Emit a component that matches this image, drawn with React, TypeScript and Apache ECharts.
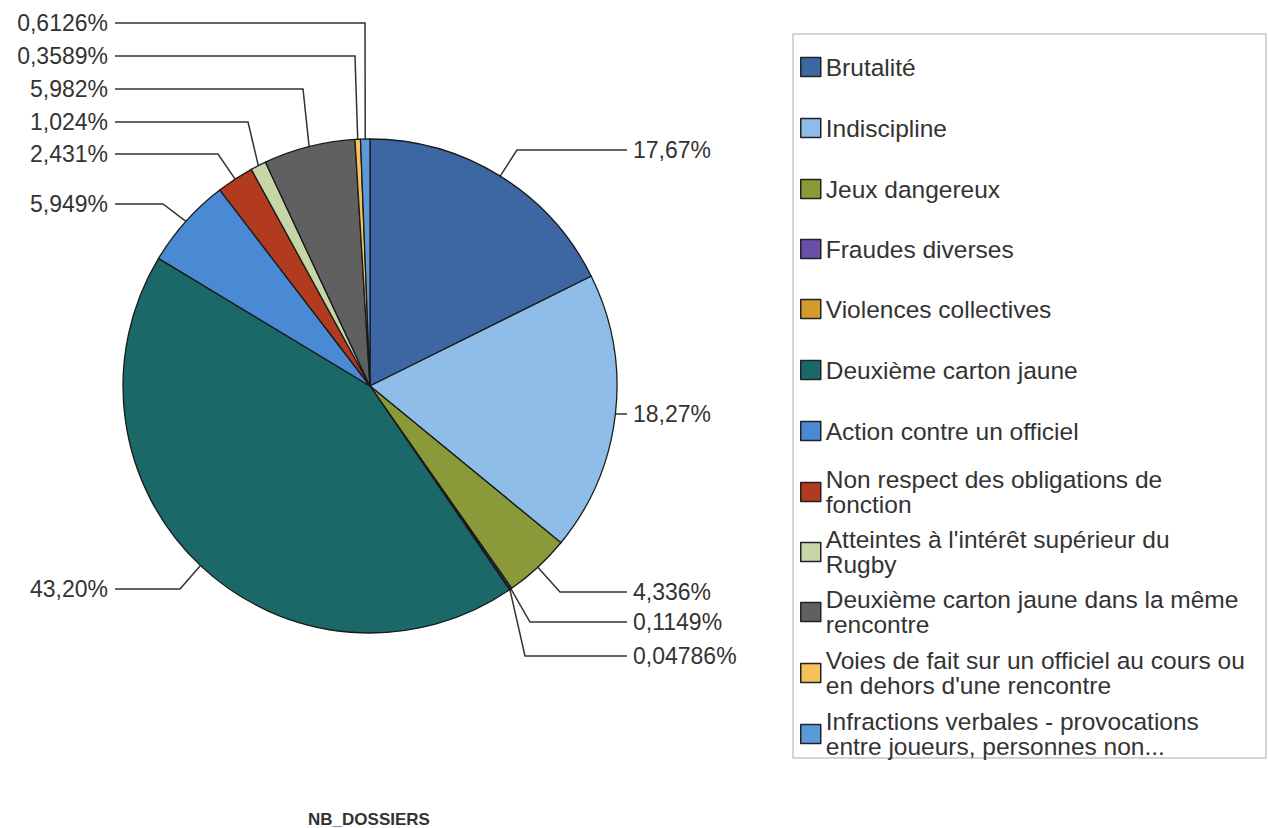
import React, { useEffect, useRef } from "react";
import * as echarts from "echarts";

const categories = [
  "Brutalité",
  "Indiscipline",
  "Jeux dangereux",
  "Fraudes diverses",
  "Violences collectives",
  "Deuxième carton jaune",
  "Action contre un officiel",
  "Non respect des obligations de fonction",
  "Atteintes à l'intérêt supérieur du Rugby",
  "Deuxième carton jaune dans la même rencontre",
  "Voies de fait sur un officiel au cours ou en dehors d'une rencontre",
  "Infractions verbales - provocations entre joueurs, personnes non...",
];

const legendLabels = [
  "Brutalité",
  "Indiscipline",
  "Jeux dangereux",
  "Fraudes diverses",
  "Violences collectives",
  "Deuxième carton jaune",
  "Action contre un officiel",
  "Non respect des obligations de\nfonction",
  "Atteintes à l'intérêt supérieur du\nRugby",
  "Deuxième carton jaune dans la même\nrencontre",
  "Voies de fait sur un officiel au cours ou\nen dehors d'une rencontre",
  "Infractions verbales - provocations\nentre joueurs, personnes non...",
];

// percentage share of NB_DOSSIERS
const shares = [17.67, 18.27, 4.336, 0.1149, 0.04786, 43.2, 5.949, 2.431, 1.024, 5.982, 0.3589, 0.6126];

const colors = [
  "#3c67a3",
  "#8dbde8",
  "#8b9a38",
  "#6a4fa8",
  "#d39a2e",
  "#1b6869",
  "#4a8ad4",
  "#b23a1e",
  "#c6d6a6",
  "#606060",
  "#f6c05a",
  "#5a9ad8",
];

const seriesTitle = "NB_DOSSIERS";

// label layout (positions only)
const CX = 370;
const CY = 386;
const R = 247;
const labelSide = ["r", "r", "r", "r", "r", "l", "l", "l", "l", "l", "l", "l"];
const labelYs = [150, 414, 592, 622, 656, 589, 204, 154, 122, 89, 56, 23];
const elbowXs = [517, 618, 560, 530, 525, 180, 163, 218, 248, 303, 355, 365];
const legendCenters = [67, 128, 189, 249, 309, 370, 431, 492, 552, 612, 673, 734];

const FONT = "'Liberation Sans', Arial, sans-serif";
const LEGEND_LH = 25;

function fmt(v: number): string {
  return v.toPrecision(4).replace(".", ",") + "%";
}

export default function App() {
  const ref = useRef<HTMLDivElement>(null);

  useEffect(() => {
    if (!ref.current) return;
    const chart = echarts.init(ref.current, undefined, { renderer: "svg" });
    const total = shares.reduce((a, b) => a + b, 0);
    const midAngles: number[] = [];
    let acc = 0;
    shares.forEach((v) => {
      midAngles.push(((acc + v / 2) / total) * Math.PI * 2);
      acc += v;
    });

    const legends = categories.map((name, i) => {
      const twoLines = legendLabels[i].indexOf("\n") >= 0;
      return {
        data: [name],
        orient: "vertical",
        left: 800,
        top: legendCenters[i] - (twoLines ? LEGEND_LH : LEGEND_LH / 2),
        padding: 0,
        itemWidth: 20,
        itemHeight: 19,
        icon: "rect",
        selectedMode: false,
        itemStyle: { borderColor: "#222", borderWidth: 1.5 },
        formatter: () => legendLabels[i],
        textStyle: { fontFamily: FONT, fontSize: 24.5, lineHeight: LEGEND_LH, color: "#333", padding: [0, 0, 0, 0] },
      };
    });

    chart.setOption({
      animation: false,
      backgroundColor: "#ffffff",
      color: colors,
      title: {
        text: seriesTitle,
        left: 369,
        top: 811,
        textAlign: "center",
        padding: 0,
        textStyle: { fontFamily: FONT, fontSize: 17, fontWeight: "bold", color: "#333" },
      },
      legend: legends,
      graphic: [
        {
          type: "rect",
          shape: { x: 793, y: 34, width: 473, height: 724 },
          style: { fill: "none", stroke: "#c8c8c8", lineWidth: 1.5 },
          silent: true,
        },
      ],
      series: [
        {
          type: "pie",
          name: seriesTitle,
          center: [CX, CY],
          radius: R,
          startAngle: 90,
          clockwise: true,
          avoidLabelOverlap: false,
          emphasis: { disabled: true },
          itemStyle: { borderColor: "#1a1a1a", borderWidth: 1.3 },
          label: {
            show: true,
            position: "outside",
            formatter: (p: any) => fmt(p.value),
            fontFamily: FONT,
            fontSize: 23,
            color: "#333",
          },
          labelLine: {
            show: true,
            length: 10,
            length2: 10,
            lineStyle: { color: "#333", width: 1.5 },
          },
          labelLayout: (params: any) => {
            const i = params.dataIndex;
            const a = midAngles[i];
            const ax = CX + R * Math.sin(a);
            const ay = CY - R * Math.cos(a);
            const y = labelYs[i];
            const right = labelSide[i] === "r";
            const endX = right ? 627 : 115;
            return {
              x: right ? 633 : 108,
              y,
              align: right ? "left" : "right",
              verticalAlign: "middle",
              labelLinePoints: [
                [ax, ay],
                [elbowXs[i], y],
                [endX, y],
              ],
            };
          },
          data: categories.map((name, i) => ({ name, value: shares[i] })),
        },
      ],
    });
    return () => chart.dispose();
  }, []);

  return (
    <div
      ref={ref}
      style={{ position: "fixed", left: 0, top: 0, width: 1268, height: 828, background: "#fff" }}
    />
  );
}
